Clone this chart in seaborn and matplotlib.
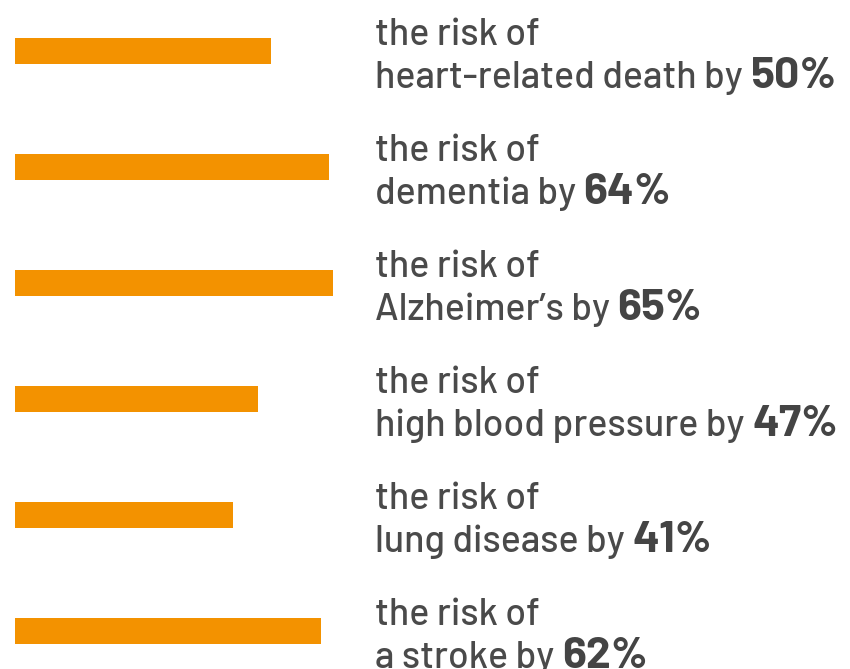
import matplotlib
matplotlib.use("Agg")
import matplotlib.pyplot as plt
import seaborn as sns
import numpy as np
import pandas as pd

# data
conditions = [
    "heart-related death",
    "dementia",
    "Alzheimer\u2019s",
    "high blood pressure",
    "lung disease",
    "a stroke",
]
risk_reduction = [50, 64, 65, 47, 41, 62]

BAR_COLOR = "#F39200"
TEXT_COLOR = "#4a4a4a"
FONT = ["Barlow", "DejaVu Sans"]
BASE = -11.3  # axis floor, bars start here

df = pd.DataFrame({"condition": conditions, "value": risk_reduction})
df["pos"] = np.arange(len(df))

sns.set_style("white")
fig = plt.figure(figsize=(8.5, 6.69), dpi=100)
ax = fig.add_axes([0, 0, 1, 1])

ax.barh(df["pos"], df["value"] - BASE, left=BASE, height=0.224,
        color=BAR_COLOR, edgecolor="none")

ax.set_xlim(-14.9, 188.9)
ax.set_ylim(5.33, -0.44)
ax.axis("off")

text_x = 375 / 850
labels = []
for i, row in df.iterrows():
    y = row["pos"]
    ax.text(text_x, y - 0.052, "the risk of", transform=ax.get_yaxis_transform(),
            ha="left", va="baseline", fontsize=27, fontweight="medium",
            color=TEXT_COLOR, family=FONT)
    t = ax.text(text_x, y + 0.319, f"{row['condition']} by ",
                transform=ax.get_yaxis_transform(), ha="left", va="baseline",
                fontsize=27, fontweight="medium", color=TEXT_COLOR, family=FONT)
    labels.append((t, y, row["value"]))

fig.canvas.draw()
inv = ax.transAxes.inverted()
for t, y, v in labels:
    bb = t.get_window_extent()
    x_ax = inv.transform((bb.x1, bb.y0))[0]
    ax.text(x_ax, y + 0.319, f"{v}%", transform=ax.get_yaxis_transform(),
            ha="left", va="baseline", fontsize=32, fontweight="bold",
            color="#444444", family=FONT)

fig.savefig("out.png", dpi=100)
